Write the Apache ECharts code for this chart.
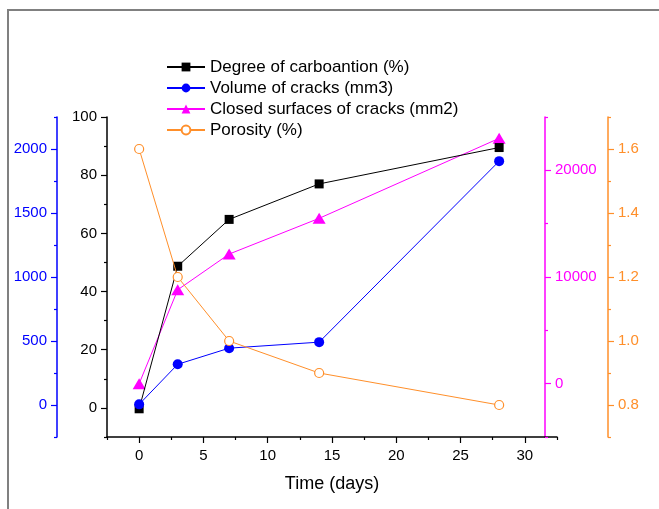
<!DOCTYPE html>
<html>
<head>
<meta charset="utf-8">
<script src="https://cdn.jsdelivr.net/npm/echarts@6/dist/echarts.min.js"></script>
<style>
  html, body { margin: 0; padding: 0; background: #fff; }
  #chart { width: 659px; height: 509px; }
</style>
</head>
<body>
<div id="chart"></div>
<script>
// time points (days)
var days = [0, 3, 7, 14, 28];
// series values
var carbonation = [-0.3, 48.7, 64.8, 77, 89.5];
var crackVolume = [5, 318, 444, 491, 1905];
var crackSurface = [0, 8800, 12150, 15500, 23000];
var porosity = [1.6, 1.2, 1.0, 0.9, 0.8];

var names = [
  "Degree of carboantion (%)",
  "Volume of cracks (mm3)",
  "Closed surfaces of cracks (mm2)",
  "Porosity (%)",
];

// tick labels
var xLabels = [0, 5, 10, 15, 20, 25, 30];
var xMinor = [-2.5, 2.5, 7.5, 12.5, 17.5, 22.5, 27.5, 32.5];
var carbLabels = [0, 20, 40, 60, 80, 100];
var carbMinor = [-10, 10, 30, 50, 70, 90];
var volLabels = [0, 500, 1000, 1500, 2000];
var volMinor = [-250, 250, 750, 1250, 1750, 2250];
var surfLabels = [0, 10000, 20000];
var surfMinor = [-5000, 5000, 15000, 25000];
var poroLabels = [0.8, 1.0, 1.2, 1.4, 1.6];
var poroMinor = [0.7, 0.9, 1.1, 1.3, 1.5, 1.7];

var FONT = "Liberation Sans";
var BLUE = "#0000ff";
var MAG = "#ff00ff";
var ORANGE = "#ff8f2a";

function pairs(ys) {
  return days.map(function (d, i) { return [d, ys[i]]; });
}

// one y axis with labels + major ticks, plus an overlay carrying minor ticks
function yPair(color, pos, offset, min, max, labels, minor, fmt) {
  var major = {
    type: "value",
    position: pos,
    offset: offset,
    min: min,
    max: max,
    splitLine: { show: false },
    axisLine: { show: true, onZero: false, lineStyle: { color: color, width: 1.5 } },
    axisTick: { show: true, customValues: labels, length: 6, lineStyle: { color: color, width: 1.2 } },
    axisLabel: {
      customValues: labels,
      color: color,
      fontFamily: FONT,
      fontSize: 15,
      margin: 10,
      formatter: fmt || function (v) { return v; },
    },
  };
  var small = {
    type: "value",
    position: pos,
    offset: offset,
    min: min,
    max: max,
    splitLine: { show: false },
    axisLine: { show: false, onZero: false },
    axisTick: { show: true, customValues: minor, length: 3, lineStyle: { color: color, width: 1.2 } },
    axisLabel: { show: false },
  };
  return [major, small];
}

var chart = echarts.init(document.getElementById("chart"));

var yAxes = []
  .concat(yPair("#000", "left", 0, -10, 100, carbLabels, carbMinor))
  .concat(yPair(BLUE, "left", 50, -250, 2250, volLabels, volMinor))
  .concat(yPair(MAG, "right", -12, -5000, 25000, surfLabels, surfMinor))
  .concat(yPair(ORANGE, "right", 51, 0.7, 1.7, poroLabels, poroMinor, function (v) { return v.toFixed(1); }));

var option = {
  animation: false,
  backgroundColor: "#fff",
  textStyle: { fontFamily: FONT },
  graphic: [
    {
      type: "polyline",
      shape: { points: [[8, 509], [8, 10], [659, 10]] },
      style: { stroke: "#808080", lineWidth: 2, fill: null },
    },
  ],
  legend: {
    orient: "vertical",
    left: 166,
    top: 58.5,
    padding: 0,
    itemWidth: 38,
    itemHeight: 11,
    itemGap: 4,
    textStyle: { fontFamily: FONT, fontSize: 17, color: "#000" },
    data: names,
  },
  grid: { left: 107, right: 102, top: 117, bottom: 72 },
  xAxis: [
    {
      type: "value",
      min: -2.5,
      max: 32.5,
      name: "Time (days)",
      nameLocation: "middle",
      nameGap: 38,
      nameTextStyle: { fontFamily: FONT, fontSize: 18, color: "#000" },
      splitLine: { show: false },
      axisLine: { show: true, onZero: false, lineStyle: { color: "#000", width: 1.5 } },
      axisTick: { show: true, customValues: xLabels, length: 6, lineStyle: { color: "#000", width: 1.2 } },
      axisLabel: { customValues: xLabels, color: "#000", fontFamily: FONT, fontSize: 15, margin: 11 },
    },
    {
      type: "value",
      min: -2.5,
      max: 32.5,
      position: "bottom",
      splitLine: { show: false },
      axisLine: { show: false, onZero: false },
      axisTick: { show: true, customValues: xMinor, length: 3, lineStyle: { color: "#000", width: 1.2 } },
      axisLabel: { show: false },
    },
  ],
  yAxis: yAxes,
  series: [
    {
      name: names[0],
      type: "line",
      yAxisIndex: 0,
      data: pairs(carbonation),
      symbol: "rect",
      symbolSize: 9,
      color: "#000",
      lineStyle: { width: 1, color: "#000" },
      itemStyle: { color: "#000" },
      z: 4,
    },
    {
      name: names[1],
      type: "line",
      yAxisIndex: 2,
      data: pairs(crackVolume),
      symbol: "circle",
      symbolSize: 10,
      color: BLUE,
      lineStyle: { width: 1, color: BLUE },
      itemStyle: { color: BLUE },
      z: 5,
    },
    {
      name: names[2],
      type: "line",
      yAxisIndex: 4,
      data: pairs(crackSurface),
      symbol: "triangle",
      symbolSize: [13, 11],
      color: MAG,
      lineStyle: { width: 1, color: MAG },
      itemStyle: { color: MAG },
      z: 3,
    },
    {
      name: names[3],
      type: "line",
      yAxisIndex: 6,
      data: pairs(porosity),
      symbol: "circle",
      symbolSize: 9,
      color: ORANGE,
      lineStyle: { width: 1, color: ORANGE },
      itemStyle: { color: "#fff", borderColor: ORANGE, borderWidth: 1.2 },
      z: 6,
    },
  ],
};

chart.setOption(option);
</script>
</body>
</html>
